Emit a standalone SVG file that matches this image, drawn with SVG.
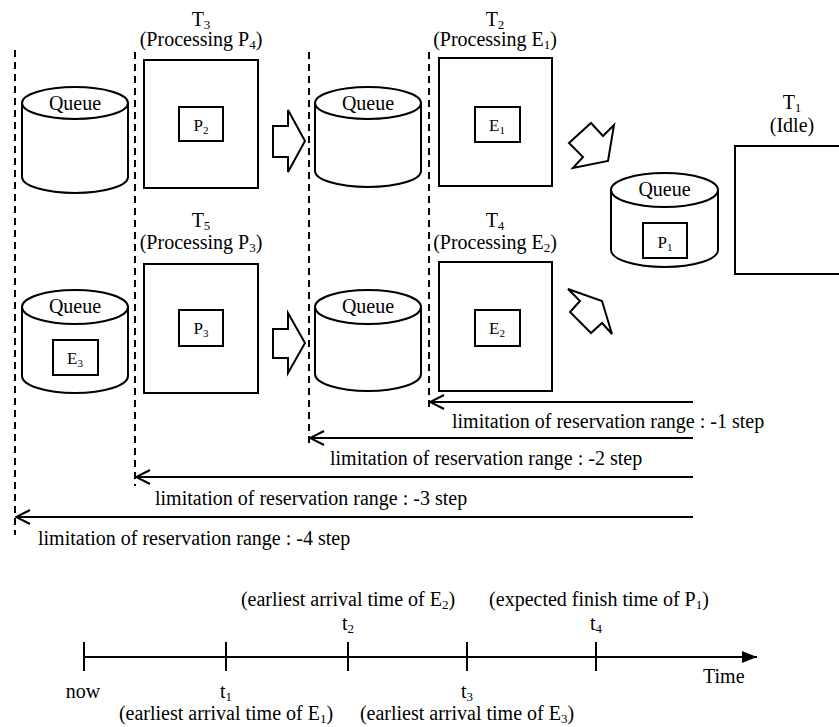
<svg xmlns="http://www.w3.org/2000/svg" width="839" height="727" viewBox="0 0 839 727" font-family="'Liberation Serif', 'Times New Roman', 'DejaVu Serif', serif">
<style>
text{font-family:"Liberation Serif","Times New Roman","DejaVu Serif",serif;fill:#000;font-size:20px}
.c{text-anchor:middle}
.s{font-size:13px}
.in{font-size:17px}
.in .s{font-size:11px}
.box{fill:#fff;stroke:#000;stroke-width:2}
.cyl{fill:#fff;stroke:#000;stroke-width:2}
.dash{stroke:#000;stroke-width:2;stroke-dasharray:7,5;fill:none}
.ln{stroke:#000;stroke-width:2;fill:none}
.blk{fill:#fff;stroke:#000;stroke-width:2;stroke-linejoin:miter}
</style>
<defs>
<marker id="open" viewBox="0 0 16 16" refX="15" refY="8" markerWidth="16" markerHeight="16" markerUnits="userSpaceOnUse" orient="auto">
<path d="M1,1 L15,8 L1,15" fill="none" stroke="#000" stroke-width="2"/>
</marker>
<marker id="fill" viewBox="0 0 16 14" refX="15" refY="7" markerWidth="16" markerHeight="14" markerUnits="userSpaceOnUse" orient="auto">
<path d="M0,1 L15,7 L0,13 Z" fill="#000"/>
</marker>
</defs>
<rect width="839" height="727" fill="#fff"/>

<g id="dashed-lines">
<line class="dash" x1="15" y1="50" x2="15" y2="535"/>
<line class="dash" x1="135" y1="52" x2="135" y2="486"/>
<line class="dash" x1="309" y1="52" x2="309" y2="448"/>
<line class="dash" x1="429" y1="52" x2="429" y2="410"/>
</g>

<g id="queue-1">
<path class="cyl" d="M22,103 L22,177 A53,16 0 0 0 128,177 L128,103"/>
<ellipse class="cyl" cx="75" cy="103" rx="53" ry="16"/>
<text class="c" x="75" y="110">Queue</text>
</g>

<g id="T3">
<text class="c" x="201" y="26">T<tspan class="s" dy="3">3</tspan></text>
<text class="c" x="201" y="46">(Processing P<tspan class="s" dy="3">4</tspan><tspan dy="-3">)</tspan></text>
<rect class="box" x="144" y="60" width="114" height="128"/>
<rect class="box" x="179" y="107" width="44" height="34"/>
<text class="c in" x="201" y="131">P<tspan class="s" dy="3">2</tspan></text>
</g>

<g id="queue-2">
<path class="cyl" d="M315,103 L315,171 A53,16 0 0 0 421,171 L421,103"/>
<ellipse class="cyl" cx="368" cy="103" rx="53" ry="16"/>
<text class="c" x="368" y="110">Queue</text>
</g>

<g id="T2">
<text class="c" x="495" y="26">T<tspan class="s" dy="3">2</tspan></text>
<text class="c" x="495" y="46">(Processing E<tspan class="s" dy="3">1</tspan><tspan dy="-3">)</tspan></text>
<rect class="box" x="439" y="58" width="113" height="128"/>
<rect class="box" x="475" y="107" width="45" height="35"/>
<text class="c in" x="497" y="131">E<tspan class="s" dy="3">1</tspan></text>
</g>

<g id="queue-3">
<path class="cyl" d="M22,307 L22,376 A53,17 0 0 0 128,376 L128,307"/>
<ellipse class="cyl" cx="75" cy="307" rx="53" ry="17"/>
<text class="c" x="75" y="313">Queue</text>
<rect class="box" x="53" y="340" width="45" height="35"/>
<text class="c in" x="75" y="364">E<tspan class="s" dy="3">3</tspan></text>
</g>

<g id="T5">
<text class="c" x="201" y="227">T<tspan class="s" dy="3">5</tspan></text>
<text class="c" x="201" y="249">(Processing P<tspan class="s" dy="3">3</tspan><tspan dy="-3">)</tspan></text>
<rect class="box" x="144" y="264" width="114" height="129"/>
<rect class="box" x="179" y="310" width="44" height="36"/>
<text class="c in" x="201" y="334">P<tspan class="s" dy="3">3</tspan></text>
</g>

<g id="queue-4">
<path class="cyl" d="M315,307 L315,374 A53,17 0 0 0 421,374 L421,307"/>
<ellipse class="cyl" cx="368" cy="307" rx="53" ry="17"/>
<text class="c" x="368" y="313">Queue</text>
</g>

<g id="T4">
<text class="c" x="495" y="227">T<tspan class="s" dy="3">4</tspan></text>
<text class="c" x="495" y="249">(Processing E<tspan class="s" dy="3">2</tspan><tspan dy="-3">)</tspan></text>
<rect class="box" x="439" y="262" width="113" height="129"/>
<rect class="box" x="475" y="310" width="45" height="36"/>
<text class="c in" x="497" y="334">E<tspan class="s" dy="3">2</tspan></text>
</g>

<g id="queue-P1">
<path class="cyl" d="M611,190 L611,250 A53.5,17 0 0 0 718,250 L718,190"/>
<ellipse class="cyl" cx="664.5" cy="190" rx="53.5" ry="17"/>
<text class="c" x="664.5" y="196">Queue</text>
<rect class="box" x="643" y="223" width="44" height="35"/>
<text class="c in" x="665" y="248">P<tspan class="s" dy="3">1</tspan></text>
</g>

<g id="T1">
<text class="c" x="792" y="109">T<tspan class="s" dy="3">1</tspan></text>
<text class="c" x="792" y="132">(Idle)</text>
<rect class="box" x="735" y="146" width="120" height="128"/>
</g>

<g id="connectors">
<polygon class="blk" points="273,126 288,126 288,110 305,141 288,172 288,157 273,157"/>
<polygon class="blk" points="273,329 288,329 288,313 305,343 288,373 288,358 273,358"/>
<polygon class="blk" points="569,143 591,123 603,136 614,125 608,161 573,168 583,157"/>
<polygon class="blk" points="568,289 602,301 612,334 602,323 591,333 570,312 580,301"/>
<line class="ln" x1="693" y1="402" x2="430" y2="402" marker-end="url(#open)"/>
<line class="ln" x1="693" y1="438" x2="310" y2="438" marker-end="url(#open)"/>
<line class="ln" x1="693" y1="477" x2="136" y2="477" marker-end="url(#open)"/>
<line class="ln" x1="693" y1="517" x2="16" y2="517" marker-end="url(#open)"/>
</g>

<g id="range-labels">
<text x="452" y="428">limitation of reservation range : -1 step</text>
<text x="330" y="465">limitation of reservation range : -2 step</text>
<text x="155" y="505">limitation of reservation range : -3 step</text>
<text x="38" y="545">limitation of reservation range : -4 step</text>
</g>

<g id="timeline">
<line class="ln" x1="84" y1="657" x2="757" y2="657" marker-end="url(#fill)"/>
<line class="ln" x1="84" y1="642" x2="84" y2="671"/>
<line class="ln" x1="226" y1="642" x2="226" y2="671"/>
<line class="ln" x1="348" y1="642" x2="348" y2="671"/>
<line class="ln" x1="467" y1="642" x2="467" y2="671"/>
<line class="ln" x1="596" y1="642" x2="596" y2="671"/>
<text class="c" x="83" y="698">now</text>
<text class="c" x="226" y="698">t<tspan class="s" dy="3">1</tspan></text>
<text class="c" x="226" y="720">(earliest arrival time of E<tspan class="s" dy="3">1</tspan><tspan dy="-3">)</tspan></text>
<text class="c" x="348" y="630">t<tspan class="s" dy="3">2</tspan></text>
<text class="c" x="348" y="606">(earliest arrival time of E<tspan class="s" dy="3">2</tspan><tspan dy="-3">)</tspan></text>
<text class="c" x="467" y="698">t<tspan class="s" dy="3">3</tspan></text>
<text class="c" x="467" y="720">(earliest arrival time of E<tspan class="s" dy="3">3</tspan><tspan dy="-3">)</tspan></text>
<text class="c" x="596" y="630">t<tspan class="s" dy="3">4</tspan></text>
<text class="c" x="599" y="606">(expected finish time of P<tspan class="s" dy="3">1</tspan><tspan dy="-3">)</tspan></text>
<text x="703" y="683">Time</text>
</g>
</svg>
